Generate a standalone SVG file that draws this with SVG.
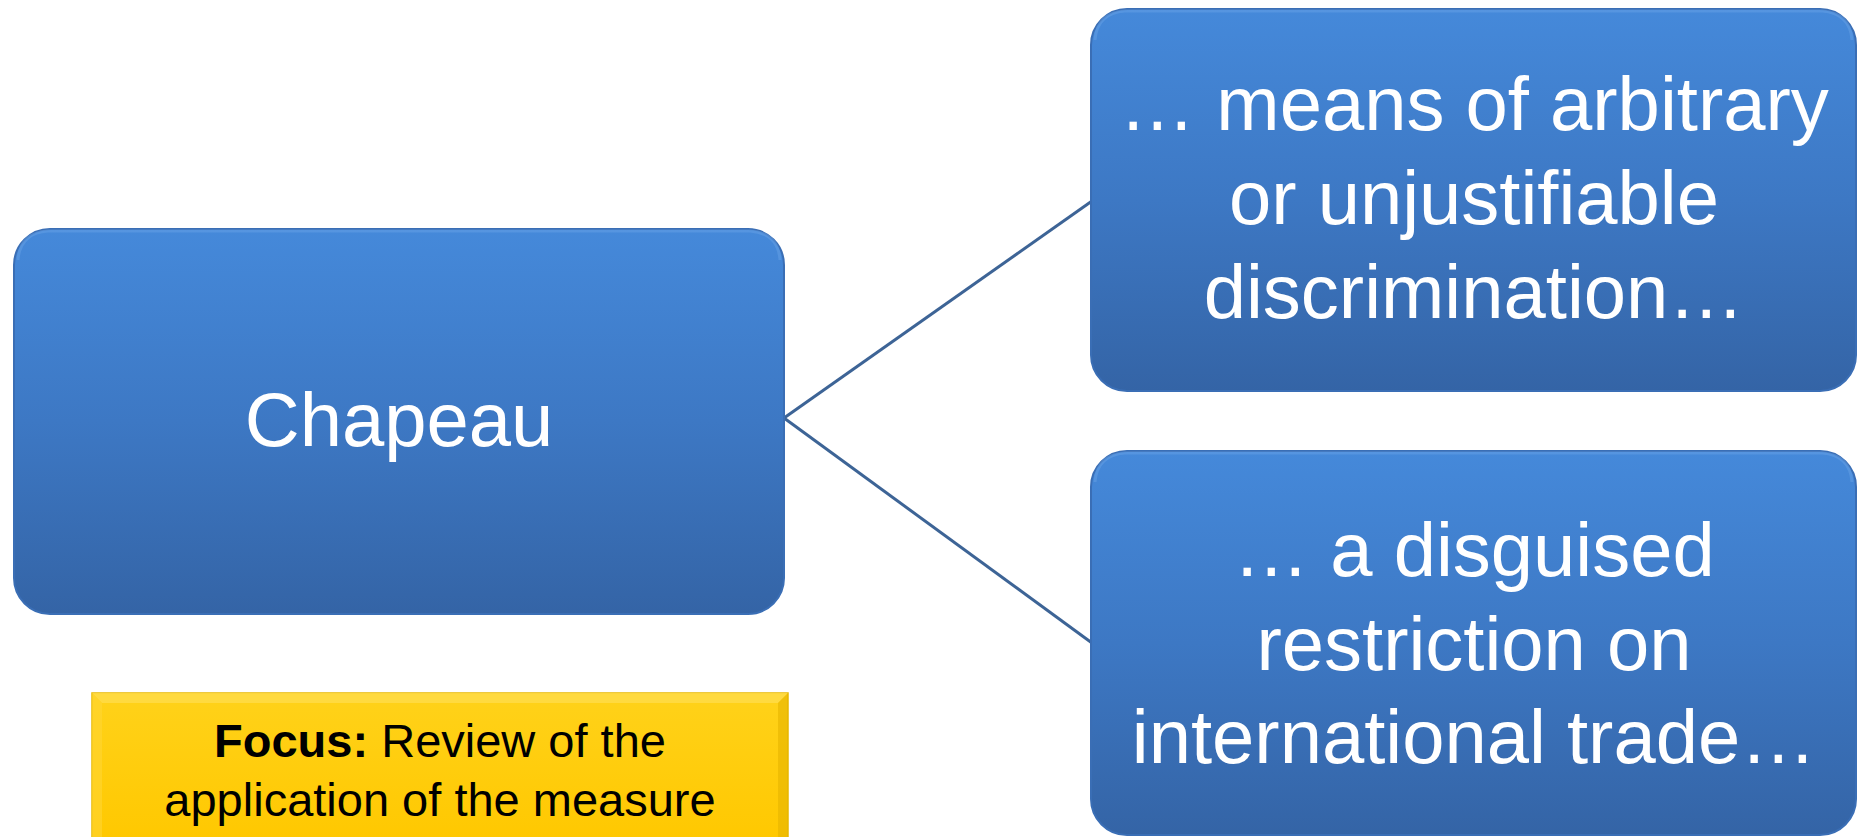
<svg xmlns="http://www.w3.org/2000/svg" width="1858" height="837" viewBox="0 0 1858 837">
<defs>
<linearGradient id="blue" x1="0" y1="0" x2="0" y2="1">
<stop offset="0" stop-color="#4589da"/>
<stop offset="0.5" stop-color="#3d78c4"/>
<stop offset="1" stop-color="#3464a6"/>
</linearGradient>
<linearGradient id="gold" x1="0" y1="0" x2="0" y2="1">
<stop offset="0" stop-color="#ffd21a"/>
<stop offset="1" stop-color="#ffc800"/>
</linearGradient>
</defs>
<style>
.box{fill:url(#blue);stroke:#3a6eb5;stroke-width:2}
.hl{fill:none;stroke:#6aa3e6;stroke-width:3;opacity:0.45}
.t{font-family:"Liberation Sans",Arial,sans-serif;fill:#ffffff;text-anchor:middle}
.y{font-family:"Liberation Sans",Arial,sans-serif;fill:#000000;text-anchor:middle;font-size:47px}
.conn{stroke:#3d6496;stroke-width:3;fill:none}
</style>
<rect width="1858" height="837" fill="#ffffff"/>
<g id="connectors">
<line class="conn" x1="784" y1="418" x2="1092" y2="201"/>
<line class="conn" x1="784" y1="418" x2="1092" y2="643"/>
</g>
<g id="chapeau">
<rect class="box" x="14" y="229" width="770" height="385" rx="36"/>
<path class="hl" d="M18 260 Q20 233 48 231 L750 231 Q778 233 780 260"/>
<text class="t" x="399" y="446" font-size="76">Chapeau</text>
</g>
<g id="discrimination">
<rect class="box" x="1091" y="9" width="765" height="382" rx="36"/>
<path class="hl" d="M1095 40 Q1097 13 1125 11 L1822 11 Q1850 13 1852 40"/>
<text class="t" font-size="76"><tspan x="1474" y="130">… means of arbitrary</tspan><tspan x="1474" y="224">or unjustifiable</tspan><tspan x="1474" y="318">discrimination…</tspan></text>
</g>
<g id="restriction">
<rect class="box" x="1091" y="451" width="765" height="384" rx="36"/>
<path class="hl" d="M1095 482 Q1097 455 1125 453 L1822 453 Q1850 455 1852 482"/>
<text class="t" font-size="76"><tspan x="1474" y="576">… a disguised</tspan><tspan x="1474" y="670">restriction on</tspan><tspan x="1474" y="763">international trade…</tspan></text>
</g>
<g id="focus">
<rect x="92" y="693" width="696" height="150" fill="url(#gold)" stroke="#e8b800" stroke-width="1.5"/>
<path d="M92 693 L788 693 L778 703 L102 703 Z" fill="#ffdc4a" opacity="0.8"/>
<path d="M788 693 L788 843 L778 843 L778 703 Z" fill="#e6b400" opacity="0.6"/>
<path d="M92 693 L92 843 L102 843 L102 703 Z" fill="#ffd633" opacity="0.6"/>
<text class="y"><tspan x="440" y="757"><tspan font-weight="bold">Focus:</tspan> Review of the</tspan><tspan x="440" y="816">application of the measure</tspan></text>
</g>
</svg>
